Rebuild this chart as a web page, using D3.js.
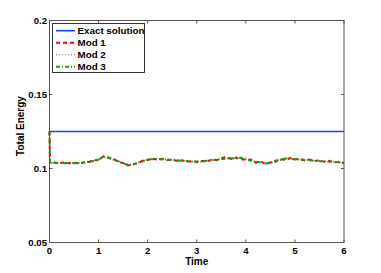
<!DOCTYPE html>
<html>
<head>
<meta charset="utf-8">
<script src="https://cdn.jsdelivr.net/npm/d3@7"></script>
<style>
  body { margin: 0; background: #fff; }
  svg { display: block; font-family: "Liberation Sans", Arial, sans-serif; font-weight: bold; }
</style>
</head>
<body>
<svg id="chart"></svg>
<script>
const xTicks = [0, 1, 2, 3, 4, 5, 6];
const yTicks = [0.05, 0.1, 0.15, 0.2];
const yTickLabels = ["0.05", "0.1", "0.15", "0.2"];

const exactTime = [0, 6];
const exactEnergy = [0.125, 0.125];

// samples at t = 0, 0.01, then every 0.1 up to 6
const startEnergy = [0.125, 0.1036];
const mod1 = [
  .1040,.1036,.1041,.1035,.1039,.1034,.1042,.1044,.1055,.1058,
  .1082,.1070,.1066,.1044,.1037,.1020,.1030,.1034,.1054,.1057,
  .1067,.1060,.1066,.1057,.1060,.1051,.1055,.1046,.1050,.1043,
  .1051,.1048,.1058,.1056,.1069,.1078,.1064,.1074,.1062,.1058,
  .1060,.1040,.1048,.1033,.1041,.1046,.1064,.1058,.1070,.1061,
  .1066,.1055,.1061,.1050,.1056,.1045,.1052,.1042,.1046,.1036];
const mod2 = [
  .1038,.1039,.1037,.1038,.1038,.1036,.1040,.1045,.1053,.1060,
  .1079,.1073,.1063,.1047,.1035,.1024,.1028,.1037,.1051,.1059,
  .1065,.1062,.1063,.1059,.1058,.1053,.1052,.1048,.1048,.1045,
  .1049,.1050,.1056,.1059,.1065,.1068,.1071,.1070,.1070,.1063,
  .1056,.1044,.1039,.1035,.1040,.1049,.1061,.1065,.1066,.1062,
  .1061,.1057,.1056,.1052,.1052,.1048,.1048,.1044,.1043,.1037];
const mod3 = [
  .1037,.1038,.1036,.1039,.1036,.1037,.1038,.1047,.1050,.1063,
  .1075,.1076,.1060,.1050,.1032,.1027,.1025,.1040,.1048,.1062,
  .1062,.1065,.1060,.1061,.1055,.1056,.1050,.1050,.1046,.1047,
  .1046,.1052,.1053,.1062,.1062,.1066,.1069,.1068,.1072,.1066,
  .1052,.1048,.1040,.1032,.1038,.1052,.1058,.1067,.1064,.1063,
  .1058,.1060,.1054,.1055,.1049,.1050,.1046,.1046,.1042,.1039];
const modTime = [0, 0.01].concat(d3.range(1, 61).map(i => i / 10));

const series = [
  { name: "Exact solution", t: exactTime, v: exactEnergy, color: "#1f3cff", width: 1.6, dash: null },
  { name: "Mod 1", t: modTime, v: startEnergy.concat(mod1), color: "#ff0000", width: 2, dash: "4,3" },
  { name: "Mod 2", t: modTime, v: startEnergy.concat(mod2), color: "#777777", width: 1, dash: "1,2" },
  { name: "Mod 3", t: modTime, v: startEnergy.concat(mod3), color: "#1a9a1a", width: 2, dash: "4,2,1,2" }
];

const width = 381, height = 273;
const margin = { top: 20.5, right: 37, bottom: 30.5, left: 49.5 };

const svg = d3.select("#chart").attr("width", width).attr("height", height);

const x = d3.scaleLinear().domain([0, 6]).range([margin.left, width - margin.right]);
const y = d3.scaleLinear().domain([0.05, 0.2]).range([height - margin.bottom, margin.top]);

const axisColor = "#555";

// lines
const line = d3.line().x(d => d[0]).y(d => d[1]);
series.forEach(s => {
  const pts = s.t.map((t, i) => [x(t), y(s.v[i])]);
  svg.append("path")
    .attr("d", line(pts))
    .attr("fill", "none")
    .attr("stroke", s.color)
    .attr("stroke-width", s.width)
    .attr("stroke-dasharray", s.dash);
});

// box
svg.append("rect")
  .attr("x", x(0)).attr("y", y(0.2))
  .attr("width", x(6) - x(0)).attr("height", y(0.05) - y(0.2))
  .attr("fill", "none").attr("stroke", axisColor).attr("stroke-width", 1);

// ticks (inward, all four sides)
const tk = 3;
xTicks.forEach(t => {
  svg.append("line").attr("x1", x(t)).attr("x2", x(t)).attr("y1", y(0.05)).attr("y2", y(0.05) - tk).attr("stroke", axisColor);
  svg.append("line").attr("x1", x(t)).attr("x2", x(t)).attr("y1", y(0.2)).attr("y2", y(0.2) + tk).attr("stroke", axisColor);
  svg.append("text").attr("x", x(t)).attr("y", y(0.05) + 11)
    .attr("text-anchor", "middle").attr("font-size", 9.6).text(t);
});
yTicks.forEach((v, i) => {
  svg.append("line").attr("x1", x(0)).attr("x2", x(0) + tk).attr("y1", y(v)).attr("y2", y(v)).attr("stroke", axisColor);
  svg.append("line").attr("x1", x(6)).attr("x2", x(6) - tk).attr("y1", y(v)).attr("y2", y(v)).attr("stroke", axisColor);
  svg.append("text").attr("x", x(0) - 2.5).attr("y", y(v) + 3.5)
    .attr("text-anchor", "end").attr("font-size", 9.6).text(yTickLabels[i]);
});

// axis titles
svg.append("text").attr("x", (x(0) + x(6)) / 2).attr("y", 264.5)
  .attr("text-anchor", "middle").attr("font-size", 10).text("Time");
svg.append("text").attr("transform", "translate(24,126) rotate(-90)")
  .attr("text-anchor", "middle").attr("font-size", 10).text("Total Energy");

// legend
const lg = svg.append("g");
lg.append("rect").attr("x", 52.5).attr("y", 23.5).attr("width", 92).attr("height", 49)
  .attr("fill", "#fff").attr("stroke", "#333").attr("stroke-width", 1);
series.forEach((s, i) => {
  const cy = 30.7 + i * 12;
  lg.append("line").attr("x1", 56).attr("x2", 75).attr("y1", cy).attr("y2", cy)
    .attr("stroke", s.color).attr("stroke-width", s.width).attr("stroke-dasharray", s.dash);
  lg.append("text").attr("x", 77.5).attr("y", cy + 3.6).attr("font-size", 9.8).text(s.name);
});
</script>
</body>
</html>
